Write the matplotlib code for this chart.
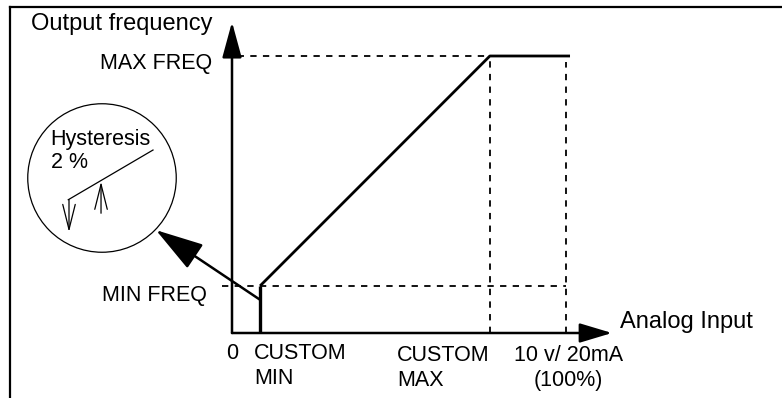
import matplotlib
matplotlib.use("Agg")
import matplotlib.pyplot as plt
from matplotlib.lines import Line2D
from matplotlib.patches import Circle
import numpy as np

# Transfer curve (analog input in % of range, output frequency in % of max)
custom_min = 8.4
custom_max = 77.2
full_scale = 100
min_freq = 17
max_freq = 100
curve_x = [custom_min, custom_min, custom_max, 101.2]
curve_y = [0, min_freq, max_freq, max_freq]

x_labels = ["0", "CUSTOM\nMIN", "CUSTOM\nMAX", "10 v/ 20mA\n(100%)"]
y_labels = ["MIN FREQ", "MAX FREQ"]

plt.rcParams['font.family'] = ['Liberation Sans', 'DejaVu Sans']
FS = 15.5
FS_TITLE = 17

W, H = 782, 398
fig = plt.figure(figsize=(W / 100, H / 100), dpi=100)

# map: origin at pixel (232, 333), 100 % input -> 566 px, max freq -> 56 px
ox, oy = 232, 333
sx = (566 - ox) / 100
sy = (oy - 56) / 100

ax = fig.add_axes([0, 0, 1, 1])
ax.set_xlim(-ox / sx, (W - ox) / sx)
ax.set_ylim(-(H - oy) / sy, oy / sy)
ax.axis('off')


def px(x, y):
    return (x - ox) / sx, (oy - y) / sy


# outer frame (top and left edge)
fig.add_artist(Line2D([10 / W, 1], [1 - 7 / H] * 2, color='black', lw=1.6))
fig.add_artist(Line2D([10 / W, 10 / W], [0, 1 - 7 / H], color='black', lw=1.6))

# axes with arrows
ax.annotate('', xy=(0, px(0, 22)[1]), xytext=(0, 0),
            arrowprops=dict(arrowstyle='-|>,head_length=1.1,head_width=0.3',
                            lw=1.8, color='black', mutation_scale=20,
                            shrinkA=0, shrinkB=0))
ax.annotate('', xy=(px(612, 0)[0], 0), xytext=(0, 0),
            arrowprops=dict(arrowstyle='-|>,head_length=1.0,head_width=0.3',
                            lw=1.8, color='black', mutation_scale=20,
                            shrinkA=0, shrinkB=0))

# dashed guide lines
dash = dict(color='black', lw=1.3, ls=(0, (3.5, 3.5)))
ax.plot([-2, custom_max], [max_freq, max_freq], **dash)
ax.plot([-3, full_scale], [min_freq, min_freq], **dash)
ax.plot([custom_max, custom_max], [0, max_freq], **dash)
ax.plot([full_scale, full_scale], [0, max_freq - 2], **dash)

# transfer curve
ax.plot(curve_x[:2], curve_y[:2], color='black', lw=2.4, solid_capstyle='butt')
ax.plot(curve_x[1:], curve_y[1:], color='black', lw=2, solid_capstyle='butt')

# axis titles
ax.text(*px(31, 24), "Output frequency", fontsize=FS_TITLE, ha='left', va='center')
ax.text(*px(620, 322), "Analog Input", fontsize=FS_TITLE, ha='left', va='center')

# y labels
ax.text(px(212, 0)[0], max_freq - 2.8, y_labels[1], fontsize=FS, ha='right', va='center')
ax.text(px(207, 0)[0], min_freq - 3.4, y_labels[0], fontsize=FS, ha='right', va='center')

# x labels
ly = px(0, 366)[1]
ax.text(0, ly, x_labels[0] + "\n ", fontsize=FS, ha='center', va='center', linespacing=1.25)
ax.text(custom_min - 1.8, ly, x_labels[1], fontsize=FS, ha='left', va='center', linespacing=1.25)
ax.text(custom_max, px(0, 368)[1], x_labels[2], fontsize=FS, ha='right', va='center',
        multialignment='left', linespacing=1.25)
ax.text(full_scale + 0.7, px(0, 368)[1], x_labels[3], fontsize=FS, ha='center', va='center',
        multialignment='center', linespacing=1.25)

# hysteresis detail (circle inset)
cx, cy, r = 102, 178, 75
ins = fig.add_axes([(cx - r) / W, (H - cy - r) / H, 2 * r / W, 2 * r / H])
ins.set_xlim(-1, 1)
ins.set_ylim(-1, 1)
ins.axis('off')
ins.add_patch(Circle((0, 0), 0.99, fill=False, lw=0.9, color='black', clip_on=False))
ins.plot([-0.45, 0.68], [-0.29, 0.373], color='black', lw=0.9)
ins.annotate('', xy=(-0.44, -0.72), xytext=(-0.44, -0.29),
             arrowprops=dict(arrowstyle='->,head_length=1.8,head_width=0.45',
                             lw=0.9, color='black', mutation_scale=10,
                             shrinkA=0, shrinkB=0))
ins.annotate('', xy=(-0.013, -0.05), xytext=(-0.013, -0.47),
             arrowprops=dict(arrowstyle='->,head_length=1.8,head_width=0.45',
                             lw=0.9, color='black', mutation_scale=10,
                             shrinkA=0, shrinkB=0))
ins.text(-0.69, 0.52, "Hysteresis", fontsize=FS, ha='left', va='center')
ins.text(-0.68, 0.21, "2 %", fontsize=FS, ha='left', va='center')

# pointer from the curve to the inset
ang = np.deg2rad(-44)
ax.annotate('', xy=(np.cos(ang), np.sin(ang)), xycoords=ins.transData,
            xytext=(custom_min, 12), textcoords='data',
            arrowprops=dict(arrowstyle='-|>,head_length=3.0,head_width=0.9',
                            lw=1.8, color='black', mutation_scale=10,
                            shrinkA=0, shrinkB=0))

fig.savefig("out.png", dpi=100)
